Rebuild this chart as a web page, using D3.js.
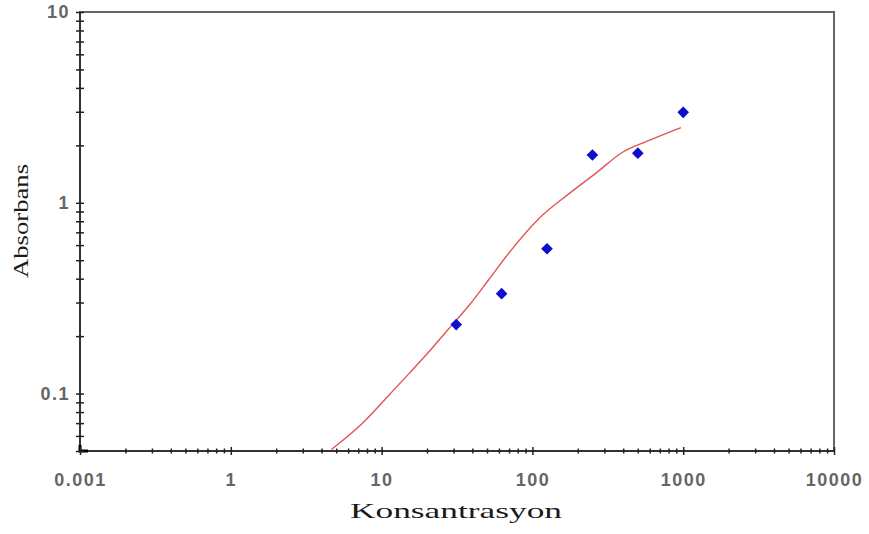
<!DOCTYPE html>
<html>
<head>
<meta charset="utf-8">
<script src="https://cdn.jsdelivr.net/npm/d3@7"></script>
<style>
  body { margin: 0; background: #fff; }
  .tick text { font-family: "Liberation Sans", Arial, sans-serif; font-weight: bold; font-size: 18px; fill: #666; letter-spacing: 1.5px; }
  .axis .domain { display: none; }
  .axis line { stroke: #222; stroke-width: 1.5; }
  .title { font-family: "Liberation Serif", "Times New Roman", serif; fill: #1a1a1a; }
</style>
</head>
<body>
<script>
const container = d3.select('body').append('div').attr('class', 'chart');

// measured points (concentration, absorbance)
const pointX = [31.25, 62.5, 125, 250, 500, 1000];
const pointY = [0.23, 0.334, 0.574, 1.78, 1.82, 2.98];

// fitted curve
const curveX = [4.65, 7.52, 11.3, 15.3, 20.8, 27.5, 38.3, 51.9, 70.4, 111, 176, 264, 396, 566, 966];
const curveY = [0.0509, 0.0703, 0.099, 0.128, 0.167, 0.216, 0.292, 0.4, 0.55, 0.83, 1.12, 1.43, 1.84, 2.09, 2.48];

const xTickValues = [0.1, 1, 10, 100, 1000, 10000];
const xTickLabels = ['0.001', '1', '10', '100', '1000', '10000'];
const yTickValues = [0.1, 1, 10];
const yTickLabels = ['0.1', '1', '10'];

const outerW = 869,
    outerH = 534;

const margin = { left: 80, right: 35, top: 12, bottom: 83 };
const w = outerW - margin.left - margin.right,
    h = outerH - margin.top - margin.bottom;

const x = d3.scaleLog().domain([0.1, 10000]).range([0, w]);
const y = d3.scaleLog().domain([0.05, 10]).range([h, 0]);

const svg = container.append('svg')
    .attr('width', outerW)
    .attr('height', outerH);

const g = svg.append('g')
    .attr('transform', `translate(${margin.left}, ${margin.top})`);

// frame: grey top/right, dark left/bottom
g.append('rect')
    .attr('x', 0).attr('y', 0)
    .attr('width', w).attr('height', h)
    .attr('fill', 'none')
    .attr('stroke', '#666')
    .attr('stroke-width', 2);

g.append('path')
    .attr('d', `M0,0V${h}H${w}`)
    .attr('fill', 'none')
    .attr('stroke', '#333')
    .attr('stroke-width', 2);

g.append('path')
    .attr('d', `M0,${h - 6}V${h}H8`)
    .attr('fill', 'none')
    .attr('stroke', '#000')
    .attr('stroke-width', 3);

function xLabel(d) {
    const i = xTickValues.indexOf(d);
    return i >= 0 ? xTickLabels[i] : '';
}
function yLabel(d) {
    const i = yTickValues.findIndex(v => Math.abs(v - d) < 1e-9);
    return i >= 0 ? yTickLabels[i] : '';
}

const xAxis = g.append('g')
    .attr('class', 'x axis')
    .attr('transform', `translate(0, ${h})`)
    .call(d3.axisBottom(x)
        .tickValues(x.ticks())
        .tickFormat(xLabel)
        .tickSize(4)
        .tickPadding(18)
    );
xAxis.selectAll('.tick line')
    .attr('y1', d => xLabel(d) ? -4 : -2.5)
    .attr('y2', d => xLabel(d) ? 4 : 2.5);

const yAxis = g.append('g')
    .attr('class', 'y axis')
    .call(d3.axisLeft(y)
        .tickValues(y.ticks())
        .tickFormat(yLabel)
        .tickSize(4)
        .tickPadding(6)
    );
yAxis.selectAll('.tick line')
    .attr('x1', -4)
    .attr('x2', 4);

// fitted curve
const curveData = curveX.map((d, i) => ({ x: d, y: curveY[i] }));
g.append('path')
    .datum(curveData)
    .attr('fill', 'none')
    .attr('stroke', '#e05555')
    .attr('stroke-width', 1.4)
    .attr('d', d3.line()
        .x(d => x(d.x))
        .y(d => y(d.y))
        .curve(d3.curveMonotoneX));

// points
const pointData = pointX.map((d, i) => ({ x: d, y: pointY[i] }));
g.selectAll('.pt')
    .data(pointData)
    .enter()
    .append('path')
    .attr('class', 'pt')
    .attr('transform', d => `translate(${x(d.x)}, ${y(d.y)}) rotate(45)`)
    .attr('d', d3.symbol().type(d3.symbolSquare).size(68))
    .attr('fill', '#0d0dcc');

// axis titles
svg.append('text')
    .attr('class', 'title')
    .attr('x', 456)
    .attr('y', 518)
    .attr('text-anchor', 'middle')
    .attr('font-size', 22)
    .attr('textLength', 212)
    .attr('lengthAdjust', 'spacingAndGlyphs')
    .text('Konsantrasyon');

svg.append('text')
    .attr('class', 'title')
    .attr('transform', 'translate(28, 221) rotate(-90)')
    .attr('text-anchor', 'middle')
    .attr('font-size', 20)
    .attr('textLength', 114)
    .attr('lengthAdjust', 'spacingAndGlyphs')
    .text('Absorbans');
</script>
</body>
</html>
